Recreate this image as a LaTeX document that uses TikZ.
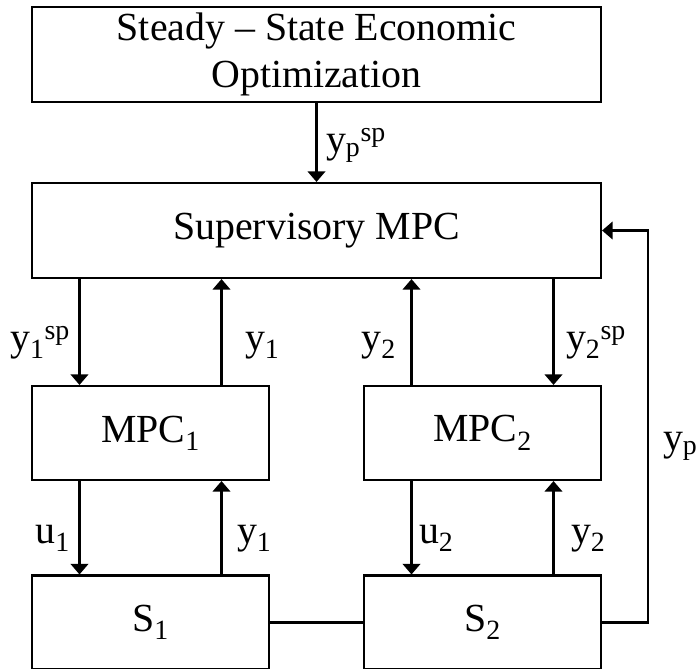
\documentclass[tikz,border=0pt]{standalone}
\usepackage{fontspec}
\setmainfont{Liberation Serif}
\usetikzlibrary{arrows.meta}

\begin{document}
\begin{tikzpicture}[x=0.03cm, y=-0.03cm, line width=1.8pt,
  every node/.style={font=\fontsize{34}{40}\selectfont},
  widebox/.style={draw, minimum width=17.07cm, minimum height=2.85cm, align=center, inner sep=0pt},
  ctrlbox/.style={draw, minimum width=7.11cm, minimum height=2.82cm, inner sep=0pt},
  arr/.style={-{Triangle[length=9pt,width=15pt]}},
  lbl/.style={inner sep=0pt}]
  \useasboundingbox (0,0) rectangle (698,668);
  % blocks
  \node[widebox] (seo) at (316.5,54.5) {Steady -- State Economic\\ Optimization};
  \node[widebox] (sup) at (316.5,230.5) {Supervisory MPC};
  \node[ctrlbox] (mpca) at (150.5,433) {MPC\textsubscript{1}};
  \node[ctrlbox] (mpcb) at (482.5,433) {MPC\textsubscript{2}};
  \node[ctrlbox] (sa) at (150.5,622.5) {S\textsubscript{1}};
  \node[ctrlbox] (sb) at (482.5,622.5) {S\textsubscript{2}};
  % set points and measurements
  \draw[arr] (seo) -- (sup);
  \draw[arr] ([xshift=-2.13cm]mpca.north |- sup.south) -- ([xshift=-2.13cm]mpca.north);
  \draw[arr] ([xshift=2.13cm]mpca.north) -- ([xshift=2.13cm]mpca.north |- sup.south);
  \draw[arr] ([xshift=-2.13cm]mpcb.north) -- ([xshift=-2.13cm]mpcb.north |- sup.south);
  \draw[arr] ([xshift=2.13cm]mpcb.north |- sup.south) -- ([xshift=2.13cm]mpcb.north);
  \draw[arr] ([xshift=-2.13cm]mpca.south) -- ([xshift=-2.13cm]sa.north);
  \draw[arr] ([xshift=2.13cm]sa.north) -- ([xshift=2.13cm]mpca.south);
  \draw[arr] ([xshift=-2.13cm]mpcb.south) -- ([xshift=-2.13cm]sb.north);
  \draw[arr] ([xshift=2.13cm]sb.north) -- ([xshift=2.13cm]mpcb.south);
  \draw (sa) -- (sb);
  \draw[arr] (sb.east) -- ++(46,0) coordinate (fb) |- (sup.east);
  % labels
  \node[lbl, anchor=base west] (lypsp) at (325,152) {y\textsubscript{p}\textsuperscript{sp}};
  \node[lbl, anchor=base east] (lyasp) at (71,350) {y\textsubscript{1}\textsuperscript{sp}};
  \node[lbl, anchor=base west] (lyaup) at (244,350) {y\textsubscript{1}};
  \node[lbl, anchor=base east] (lybup) at (397,350) {y\textsubscript{2}};
  \node[lbl, anchor=base west] (lybsp) at (565,350) {y\textsubscript{2}\textsuperscript{sp}};
  \node[lbl, anchor=base east] (lua) at (71,543) {u\textsubscript{1}};
  \node[lbl, anchor=base west] (lyalo) at (236,543) {y\textsubscript{1}};
  \node[lbl, anchor=base west] (lub) at (418,543) {u\textsubscript{2}};
  \node[lbl, anchor=base west] (lyblo) at (570,543) {y\textsubscript{2}};
  \node[lbl, anchor=base west] (lyp) at (662,450) {y\textsubscript{p}};
\end{tikzpicture}
\end{document}
